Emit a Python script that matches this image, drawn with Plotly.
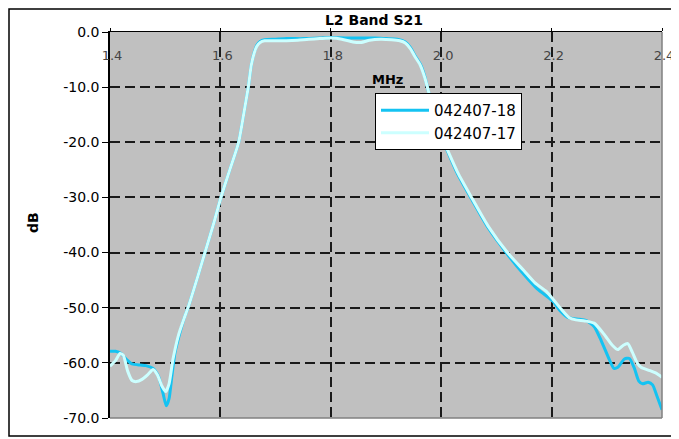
import plotly.graph_objects as go

# Frequency axis (labelled MHz in the original chart)
freq_18 = [1.400, 1.410, 1.420, 1.430, 1.440, 1.455, 1.465, 1.478, 1.488, 1.496,
           1.502, 1.507, 1.512, 1.518, 1.526, 1.534, 1.542, 1.557, 1.572, 1.587,
           1.601, 1.617, 1.633, 1.642, 1.6505, 1.656, 1.661, 1.666, 1.672, 1.680,
           1.700, 1.720, 1.750, 1.780, 1.800, 1.830, 1.860, 1.880, 1.900, 1.920,
           1.935, 1.944, 1.952, 1.962, 1.970, 1.975, 1.985, 1.995, 2.011, 2.030,
           2.055, 2.085, 2.120, 2.150, 2.174, 2.195, 2.204, 2.215, 2.230, 2.250,
           2.262, 2.277, 2.290, 2.305, 2.313, 2.320, 2.332, 2.341, 2.350, 2.358,
           2.365, 2.375, 2.383, 2.390, 2.400]
db_18 = [-57.9, -57.9, -58.3, -59.4, -60.2, -60.4, -60.5, -61.0, -62.5, -65.5,
         -67.8, -66.5, -62.5, -58.0, -54.8, -52.0, -49.8, -45.0, -40.0, -35.0,
         -30.0, -25.0, -20.0, -15.0, -10.0, -6.0, -3.8, -2.4, -1.7, -1.4,
         -1.3, -1.2, -1.2, -1.1, -1.0, -1.1, -1.1, -1.1, -1.2, -1.3,
         -1.8, -2.8, -4.2, -5.8, -8.0, -10.0, -14.0, -17.5, -21.5, -25.8,
         -30.3, -35.5, -40.3, -44.0, -46.6, -48.2, -49.0, -50.5, -51.8, -52.1,
         -52.3, -53.4, -56.0, -59.5, -61.0, -60.8, -59.3, -59.2, -61.0, -63.3,
         -63.8, -63.5, -64.0, -65.8, -68.5]

freq_17 = [1.400, 1.410, 1.418, 1.424, 1.432, 1.440, 1.448, 1.458, 1.468, 1.478,
           1.486, 1.494, 1.501, 1.507, 1.514, 1.524, 1.534, 1.542, 1.557, 1.572,
           1.587, 1.601, 1.617, 1.633, 1.642, 1.6505, 1.656, 1.661, 1.666, 1.672,
           1.680, 1.700, 1.720, 1.740, 1.760, 1.780, 1.800, 1.820, 1.840, 1.855,
           1.870, 1.890, 1.910, 1.925, 1.935, 1.944, 1.952, 1.962, 1.970, 1.975,
           1.985, 1.995, 2.011, 2.030, 2.055, 2.085, 2.120, 2.150, 2.170, 2.190,
           2.203, 2.217, 2.232, 2.244, 2.260, 2.277, 2.295, 2.310, 2.320, 2.330,
           2.338, 2.346, 2.355, 2.362, 2.375, 2.390, 2.400]
db_17 = [-60.6, -59.6, -58.3, -58.6, -61.5, -63.2, -63.4, -63.0, -62.2, -61.2,
         -62.2, -64.2, -65.2, -63.8, -59.4, -55.0, -52.0, -49.8, -45.0, -40.0,
         -35.0, -30.0, -25.0, -20.0, -15.0, -10.0, -6.0, -3.9, -2.6, -1.9,
         -1.6, -1.6, -1.6, -1.5, -1.3, -1.2, -1.1, -1.3, -1.8, -1.9,
         -1.5, -1.3, -1.4, -1.6, -2.0, -3.0, -4.4, -6.0, -8.2, -10.0,
         -14.0, -17.5, -21.3, -25.5, -30.0, -35.2, -40.0, -43.3, -45.5, -47.0,
         -48.5, -50.2, -51.8, -52.2, -52.4, -52.8, -54.8, -56.8, -57.6, -56.8,
         -56.5, -58.0, -60.0, -60.8, -61.3, -61.9, -62.6]

x_ticks = [1.4, 1.6, 1.8, 2.0, 2.2, 2.4]
x_ticktext = ["1.4", "1.6", "1.8", "2.0", "2.2", "2.4"]
y_ticks = [0, -10, -20, -30, -40, -50, -60, -70]
y_ticktext = ["0.0", "-10.0", "-20.0", "-30.0", "-40.0", "-50.0", "-60.0", "-70.0"]

FONT = "DejaVu Sans"

# page has an 8px body margin: figure coordinates = page coordinates - 8
W, H = 671, 431
L, R, T, B = 102, 17, 24, 21
PW, PH = W - L - R, H - T - B


def px_x(page_x):
    return (page_x - 8 - L) / PW


def px_y(page_y):
    return (H - B - (page_y - 8)) / PH


fig = go.Figure()
fig.add_trace(go.Scatter(x=freq_18, y=db_18, mode="lines", name="042407-18",
                         line=dict(color="#14c3f2", width=3, shape="spline", smoothing=0.6)))
fig.add_trace(go.Scatter(x=freq_17, y=db_17, mode="lines", name="042407-17",
                         line=dict(color="#ccffff", width=3, shape="spline", smoothing=0.6)))

fig.update_layout(
    width=W, height=H,
    margin=dict(l=L, r=R, t=T, b=B, autoexpand=False),
    paper_bgcolor="white",
    plot_bgcolor="#c0c0c0",
    font=dict(family=FONT, size=13, color="black"),
    showlegend=True,
    legend=dict(x=px_x(375), y=px_y(93), xanchor="left", yanchor="top",
                bgcolor="white", bordercolor="black", borderwidth=1,
                itemwidth=48,
                font=dict(family=FONT, size=15, color="black")),
    title=dict(text="<b>L2 Band S21</b>", x=px_x(374), xref="paper", xanchor="center",
               y=1 - (20 - 8) / H, yanchor="middle", font=dict(family=FONT, size=14)),
)

fig.update_xaxes(
    range=[1.4, 2.4], side="top", automargin=False,
    tickvals=x_ticks, ticktext=x_ticktext,
    ticklabelposition="inside", ticks="outside", ticklen=3, tickcolor="black",
    ticklabelstandoff=19, ticklabelshift=2, ticklabeloverflow="allow",
    tickfont=dict(family=FONT, size=13),
    showline=True, linecolor="black", linewidth=1,
    showgrid=True, gridcolor="#1a1a1a", gridwidth=1.5, griddash="10px,5px",
    zeroline=False,
)
fig.update_yaxes(
    range=[-70, 0], automargin=False,
    tickvals=y_ticks, ticktext=y_ticktext,
    ticks="outside", ticklen=6, tickcolor="black", ticklabeloverflow="allow",
    tickfont=dict(family=FONT, size=14),
    showline=True, linecolor="black", linewidth=1.5,
    showgrid=True, gridcolor="#1a1a1a", gridwidth=1.5, griddash="10px,5px",
    zeroline=False,
)

# plot-area right/bottom border (grey) and outer chart frame
fig.add_shape(type="line", xref="paper", yref="paper", x0=1, x1=1, y0=0, y1=1,
              line=dict(color="#808080", width=1.5), layer="above")
fig.add_shape(type="line", xref="paper", yref="paper", x0=0, x1=1, y0=0, y1=0,
              line=dict(color="#808080", width=1.5), layer="above")
fig.add_shape(type="rect", xref="paper", yref="paper",
              x0=(1 - L) / PW, x1=px_x(672),
              y0=px_y(436), y1=(H - B - 1) / PH,
              line=dict(color="black", width=1.5), layer="above")

# axis titles placed like the original
fig.add_annotation(text="<b>MHz</b>", x=1.9036, y=-8.6, xref="x", yref="y",
                   showarrow=False, font=dict(family=FONT, size=13))
fig.add_annotation(text="<b>dB</b>", x=px_x(33), y=px_y(223),
                   xref="paper", yref="paper", textangle=-90, showarrow=False,
                   xanchor="center", yanchor="middle",
                   font=dict(family=FONT, size=14))

fig.write_html("out.html")
